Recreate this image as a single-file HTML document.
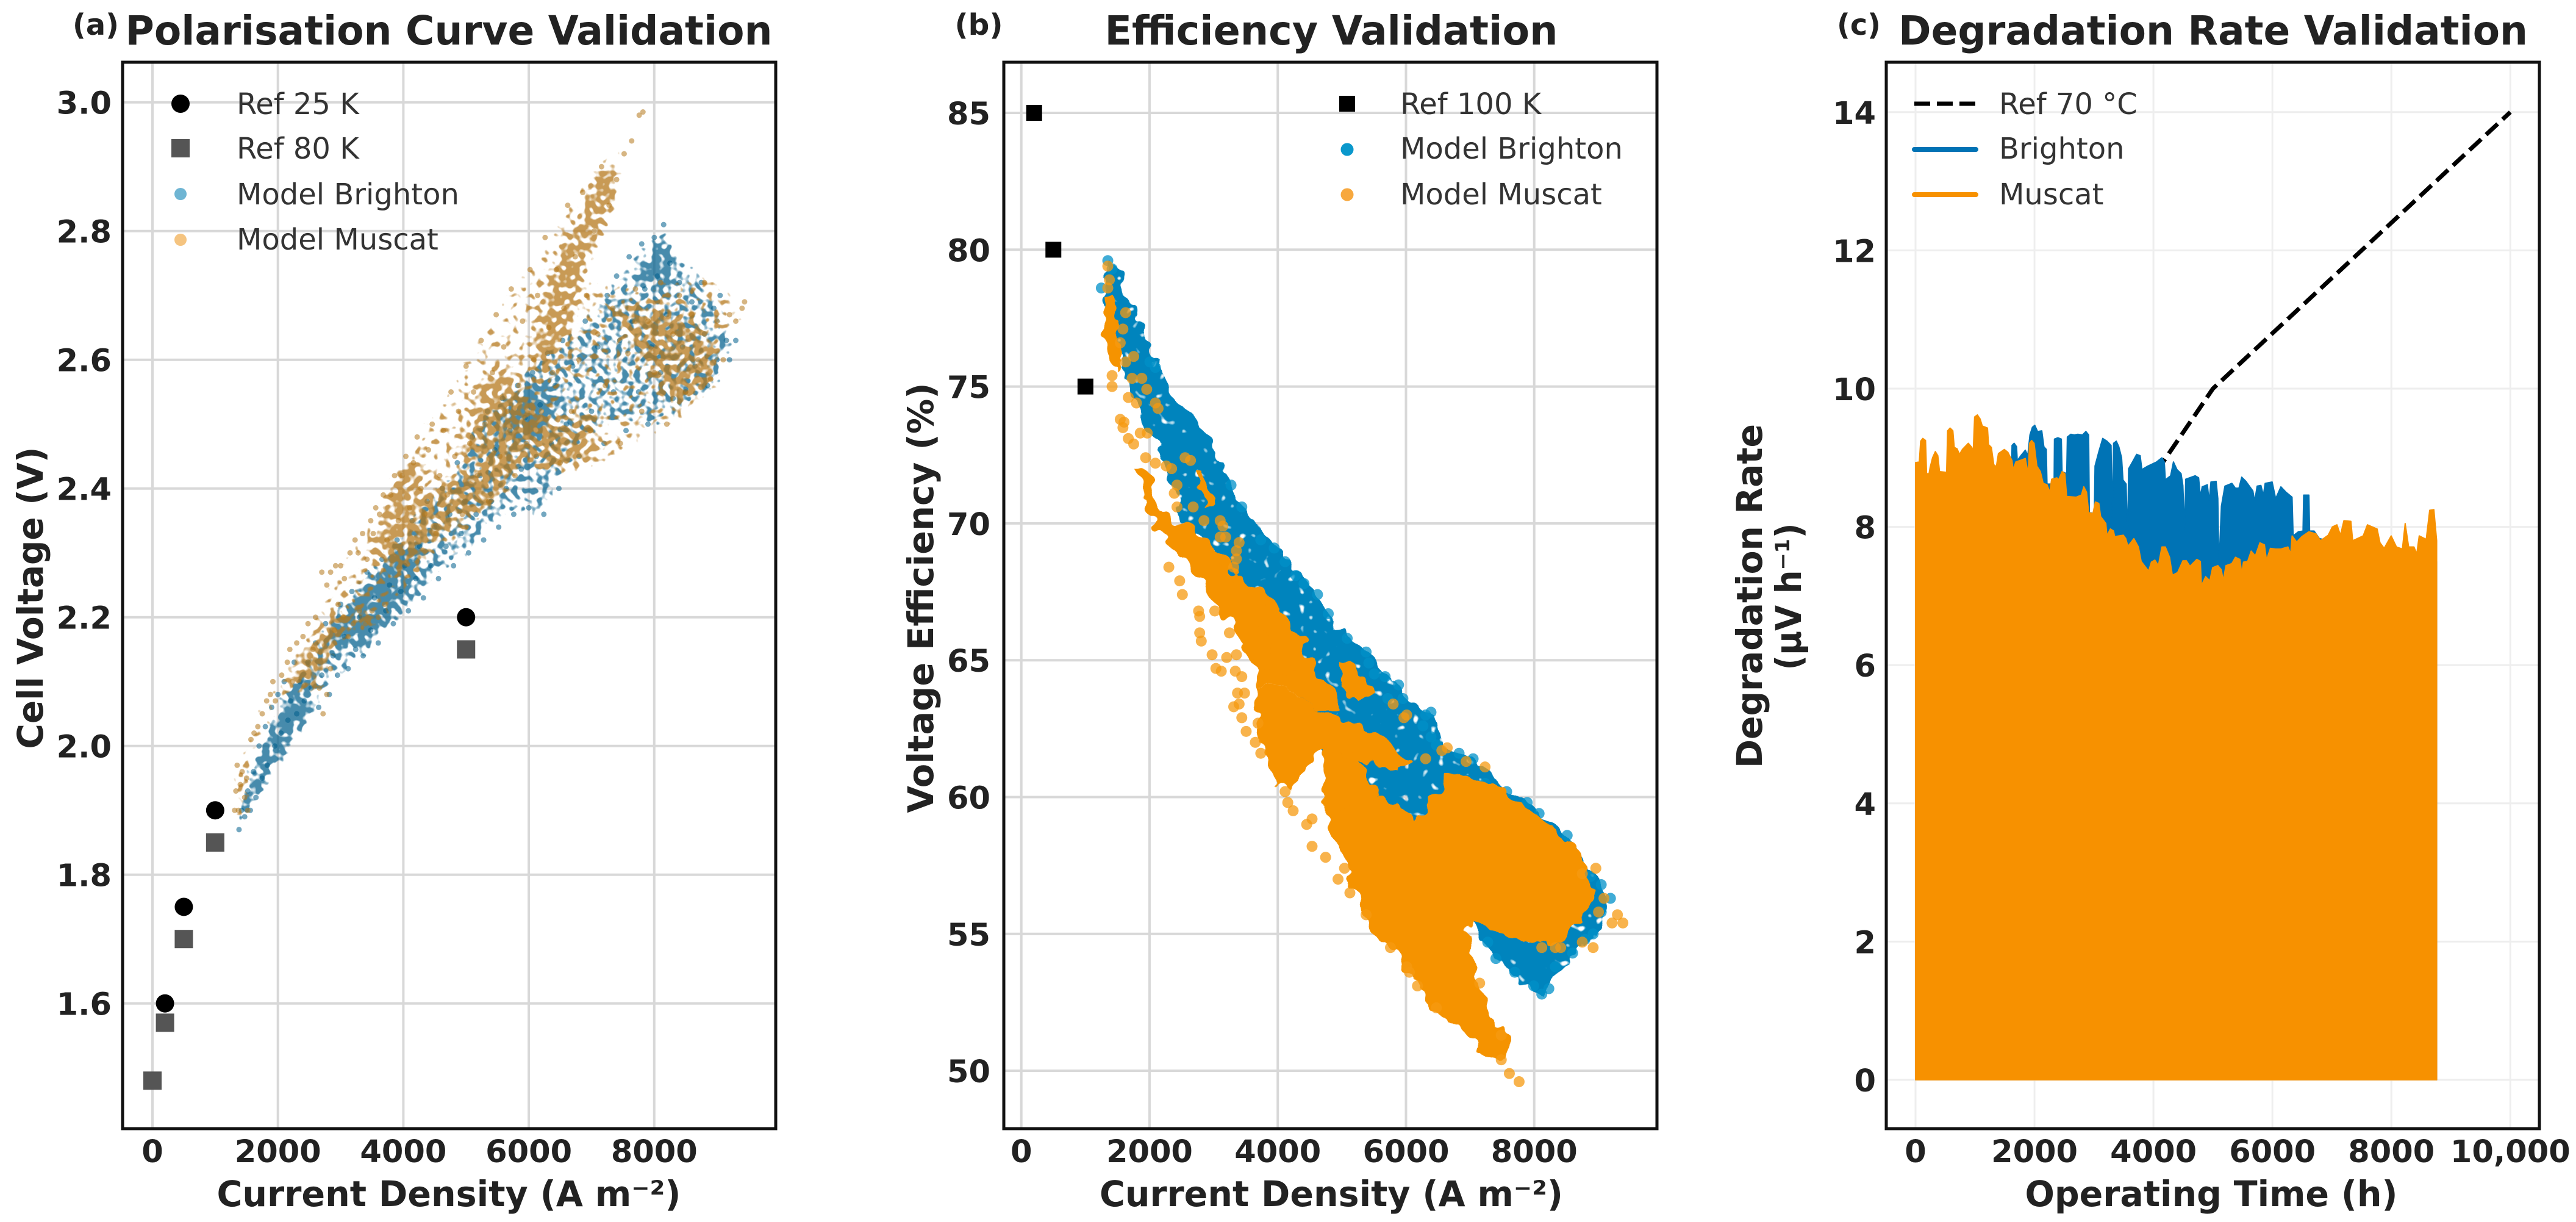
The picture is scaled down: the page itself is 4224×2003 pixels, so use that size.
<!DOCTYPE html>
<html lang="en">
<head>
<meta charset="utf-8">
<title>Model validation panels</title>
<style>
html,body{margin:0;padding:0;background:#fff;}
svg{display:block;}
text{font-family:"DejaVu Sans","Liberation Sans",sans-serif;}
</style>
</head>
<body>
<svg id="fig" xmlns="http://www.w3.org/2000/svg" width="4224" height="2003" viewBox="0 0 4224 2003">
<defs>
<filter id="speckle-blue" filterUnits="userSpaceOnUse" x="201" y="102" width="1071" height="1748" color-interpolation-filters="sRGB">
<feGaussianBlur in="SourceAlpha" stdDeviation="9" result="soft"/>
<feTurbulence type="fractalNoise" baseFrequency="0.1" numOctaves="1" seed="3"/>
<feColorMatrix values="0 0 0 0 0  0 0 0 0 0  0 0 0 0 0  1 0 0 0 0" result="noise"/>
<feComposite in="soft" in2="noise" operator="arithmetic" k1="0" k2="0.5" k3="0.5" k4="0"/>
<feComponentTransfer result="mask"><feFuncA type="linear" slope="16" intercept="-7.5"/></feComponentTransfer>
<feFlood flood-color="#005E8C" flood-opacity="0.72"/>
<feComposite in2="mask" operator="in"/>
</filter>
<filter id="speckle-brown" filterUnits="userSpaceOnUse" x="201" y="102" width="1071" height="1748" color-interpolation-filters="sRGB">
<feGaussianBlur in="SourceAlpha" stdDeviation="9" result="soft"/>
<feTurbulence type="fractalNoise" baseFrequency="0.1" numOctaves="1" seed="11"/>
<feColorMatrix values="0 0 0 0 0  0 0 0 0 0  0 0 0 0 0  1 0 0 0 0" result="noise"/>
<feComposite in="soft" in2="noise" operator="arithmetic" k1="0" k2="0.5" k3="0.5" k4="0"/>
<feComponentTransfer result="mask"><feFuncA type="linear" slope="16" intercept="-7.5"/></feComponentTransfer>
<feFlood flood-color="#B5781C" flood-opacity="0.75"/>
<feComposite in2="mask" operator="in"/>
</filter>
<filter id="rough-solid" filterUnits="userSpaceOnUse" x="1646" y="102" width="1071" height="1748" color-interpolation-filters="sRGB">
<feTurbulence type="fractalNoise" baseFrequency="0.035" numOctaves="2" seed="5" result="wobble"/>
<feDisplacementMap in="SourceGraphic" in2="wobble" scale="34" xChannelSelector="R" yChannelSelector="G"/>
</filter>
<filter id="rough-holes" filterUnits="userSpaceOnUse" x="1646" y="102" width="1071" height="1748" color-interpolation-filters="sRGB">
<feTurbulence type="fractalNoise" baseFrequency="0.035" numOctaves="2" seed="8" result="wobble"/>
<feDisplacementMap in="SourceGraphic" in2="wobble" scale="30" xChannelSelector="R" yChannelSelector="G" result="shape"/>
<feTurbulence type="fractalNoise" baseFrequency="0.07" numOctaves="1" seed="21"/>
<feColorMatrix values="0 0 0 0 0  0 0 0 0 0  0 0 0 0 0  12 0 0 0 -3.1" result="holes"/>
<feComposite in="shape" in2="holes" operator="in"/>
</filter>
</defs>
<rect width="4224" height="2003" fill="#fff"/>
</svg>
<script>
// ---------- Panel (a) data ----------
const aXTicks = [0,2000,4000,6000,8000];
const aYTicks = [1.6,1.8,2.0,2.2,2.4,2.6,2.8,3.0];
const aRef25X = [200,500,1000,5000];
const aRef25Y = [1.6,1.75,1.9,2.2];
const aRef80X = [0,200,500,1000,5000];
const aRef80Y = [1.48,1.57,1.7,1.85,2.15];
const aBrightonEnvelope = [1340,1.86,1350,1.9,1500,1.95,1800,2.03,2100,2.09,2400,2.14,2700,2.18,3000,2.22,3300,2.26,3600,2.29,3900,2.33,4200,2.37,4500,2.4,4800,2.43,5100,2.5,5400,2.53,5700,2.56,6000,2.59,6300,2.62,6600,2.64,7000,2.68,7400,2.73,7800,2.78,8200,2.81,8350,2.77,8700,2.74,9040,2.69,9300,2.63,9000,2.55,8600,2.53,8000,2.49,7400,2.5,7000,2.48,6600,2.43,6300,2.36,6000,2.36,5700,2.36,5400,2.34,5100,2.3,4800,2.28,4500,2.25,4200,2.22,3900,2.19,3600,2.16,3300,2.13,3000,2.1,2700,2.07,2400,2.03,2100,1.99,1800,1.94,1500,1.89];
const aBrightonCore1 = [1350,1.87,1400,1.92,2000,2.05,2400,2.11,2600,2.05,2100,1.98,1600,1.9];
const aBrightonCore2 = [2800,2.16,3100,2.22,3800,2.3,4300,2.32,4000,2.22,3300,2.15];
const aBrightonCore3 = [7800,2.72,8100,2.79,8300,2.77,8200,2.71];
const aBrightonCore4 = [5500,2.5,6100,2.57,6500,2.55,6000,2.47];
const aMuscatEnvelope = [1300,1.88,1320,1.97,1560,2.03,1900,2.09,2200,2.14,2550,2.2,2780,2.25,3040,2.29,3390,2.34,3650,2.39,4040,2.45,4260,2.49,4520,2.52,4780,2.57,5210,2.64,5560,2.69,6170,2.77,6430,2.81,6520,2.83,6950,2.89,7125,2.91,7560,2.94,7500,2.9,7400,2.83,7100,2.78,6950,2.72,7300,2.72,8600,2.73,9000,2.73,9450,2.68,9100,2.6,8950,2.55,8400,2.5,7800,2.47,7400,2.44,6600,2.42,6300,2.42,6000,2.45,5850,2.44,5500,2.38,5100,2.33,4800,2.3,4300,2.27,3900,2.21,3000,2.17,2700,2.06,2450,2.09,2100,2.07,1800,2.01,1500,1.93,1350,1.88];
const aMuscatCore1 = [6850,2.83,7000,2.89,7350,2.9,7450,2.85,7200,2.79,7050,2.77,6800,2.7,6550,2.62,6200,2.56,6050,2.62,6300,2.72,6500,2.77];
const aMuscatCore2 = [3500,2.29,3800,2.42,4250,2.47,4300,2.38,4800,2.42,5800,2.44,5800,2.38,4900,2.35,4400,2.31,4000,2.27];
const aMuscatCore3 = [4900,2.46,5200,2.56,5600,2.6,6000,2.53,6500,2.5,7000,2.52,7100,2.45,6300,2.42,5400,2.42];
const aMuscatCore4 = [7300,2.68,8400,2.68,9000,2.62,9000,2.56,8300,2.53,7800,2.6];
const aMuscatCore5 = [1300,1.88,1350,1.96,1500,1.97,1560,1.92,1420,1.88];
const aMuscatCore6 = [2200,2.11,2800,2.2,3600,2.21,3700,2.19,2900,2.15,2400,2.07];
const aBrightonPoints = [1380,1.87,1420,1.9,1470,1.89,1520,1.93,1560,1.9,1610,1.96,1650,1.92,1700,2,1750,1.95,1800,2.03,1830,1.97,1900,2.06,1950,2,2000,2.08,2050,2.02,2100,2.1,2160,2.04,2200,2.07,2260,2.13,2300,2.05,2350,2.1,2420,2.07,2480,2.13,2530,2.09,2600,2.16,2650,2.06,2700,2.11,2760,2.19,2820,2.08,2880,2.14,2950,2.11,3000,2.22,3060,2.17,3120,2.12,3180,2.24,3240,2.15,3300,2.2,3360,2.14,3420,2.27,3480,2.18,3540,2.23,3600,2.16,3660,2.29,3720,2.21,3780,2.25,3840,2.19,3900,2.32,3960,2.24,4020,2.28,4080,2.21,4140,2.35,4200,2.26,4260,2.31,4320,2.23,4380,2.38,4440,2.28,4500,2.34,4560,2.26,4620,2.4,4680,2.31,4740,2.36,4800,2.28,4860,2.44,4920,2.33,4980,2.38,5040,2.3,5100,2.48,5160,2.36,5220,2.42,5280,2.32,5340,2.52,5400,2.38,5460,2.46,5520,2.34,5580,2.54,5640,2.4,5700,2.49,5760,2.36,5820,2.56,5880,2.43,5940,2.51,6000,2.37,6060,2.58,6120,2.45,6180,2.53,6240,2.36,6300,2.61,6360,2.47,6420,2.56,6480,2.4,6540,2.63,6600,2.5,6700,2.59,6800,2.45,6900,2.66,7000,2.52,7100,2.62,7200,2.47,7250,2.7,7350,2.55,7400,2.73,7450,2.63,7550,2.49,7600,2.76,7650,2.66,7750,2.55,7800,2.78,7850,2.71,7900,2.5,7950,2.62,8000,2.79,8050,2.73,8100,2.58,8150,2.81,8200,2.67,8250,2.75,8300,2.54,8400,2.72,8450,2.62,8500,2.55,8600,2.69,8650,2.59,8750,2.72,8800,2.64,8850,2.56,8950,2.68,9000,2.6,9050,2.7,9150,2.63,9200,2.6,9300,2.63];
const aMuscatPoints = [1310,1.9,1330,1.93,1350,1.97,1370,1.9,1400,1.94,1430,1.96,1470,1.92,1500,1.95,1520,1.9,1570,2.01,1620,2.02,1680,2.03,1750,2.05,1820,2.07,1880,2.08,1920,2.1,1960,2.07,2060,2.11,2150,2.13,2190,2.15,2230,2.1,2300,2.16,2400,2.17,2480,2.19,2560,2.15,2600,2.2,2660,2.09,2720,2.05,2780,2.08,2840,2.12,2900,2.18,2960,2.22,3040,2.2,3120,2.17,3200,2.19,3300,2.21,3400,2.19,3500,2.21,3600,2.2,3700,2.22,2700,2.27,2780,2.25,2840,2.27,2920,2.28,3000,2.28,3060,2.26,3150,2.3,3230,2.32,3280,2.3,3350,2.33,3420,2.29,3480,2.35,3520,2.33,3560,2.37,3620,2.36,3680,2.39,3740,2.32,3800,2.39,3860,2.42,3920,2.35,3980,2.42,4040,2.45,4100,2.37,4160,2.44,4220,2.48,4280,2.4,4340,2.36,4400,2.46,4460,2.5,4520,2.33,4580,2.42,4640,2.49,4700,2.39,4760,2.55,4820,2.45,4880,2.52,4940,2.36,5000,2.59,5060,2.47,5120,2.55,5180,2.42,5240,2.63,5300,2.5,5360,2.38,5420,2.58,5480,2.67,5540,2.45,5600,2.62,5660,2.52,5720,2.71,5780,2.42,5840,2.56,5900,2.66,5960,2.47,6020,2.74,6080,2.6,6140,2.7,6200,2.52,6260,2.79,6320,2.65,6380,2.58,6440,2.74,6500,2.44,6560,2.68,6620,2.84,6680,2.52,6740,2.76,6800,2.6,6860,2.86,6920,2.7,6980,2.49,7040,2.8,7100,2.64,7160,2.9,7220,2.56,7280,2.84,7340,2.68,7400,2.88,7460,2.47,7520,2.92,7580,2.61,7640,2.94,7700,2.71,7760,2.98,7820,2.985,7800,2.52,7900,2.66,8000,2.58,8100,2.72,8200,2.5,8300,2.64,8400,2.7,8500,2.55,8600,2.67,8700,2.6,8800,2.72,8900,2.57,9000,2.66,9100,2.6,9200,2.67,9300,2.66,9400,2.68,9440,2.69];

// ---------- Panel (b) data ----------
const bXTicks = [0,2000,4000,6000,8000];
const bYTicks = [50,55,60,65,70,75,80,85];
const bRefX = [200,500,1000];
const bRefY = [85,80,75];
const bBrightonCore = [1350,79.6,1585,79.2,1670,78.1,2000,76.4,2345,74.9,2850,73.3,3270,71.3,3780,69.6,4200,68.6,4620,67.4,4870,66.4,5125,65.8,5460,65.2,5715,64.5,5880,64.1,5970,63.6,6390,63.1,6520,61.9,6810,61.6,7065,61.4,7570,60.2,7910,59.8,8075,59.4,8580,58.4,8750,57.7,9170,56.2,9000,55,8580,54.1,8290,53.5,8120,52.7,7570,53.7,7150,54.8,7000,56,6000,58,5500,59.5,5125,60.4,4700,61.5,4280,63.9,3780,64.8,3355,66.35,2930,69.1,2510,70.1,2260,72,2000,73.4,1585,75.6,1250,78.3];
const bMuscatBody = [4700,60.2,5040,59.7,5630,60,6140,59.2,6640,60.8,7150,60.8,7740,59.8,8240,59,8750,57.7,8920,56.4,8750,55.4,8160,54.5,7570,55,7060,55.5,6900,55.1,7110,53.5,7400,51.7,7610,51,7490,50.4,7230,50.7,6730,51.7,6350,52.3,6100,53.5,5840,54.3,5550,55,5290,56,5125,57,4960,58.4,4700,59.8];
const bMuscatMid = [3690,64.2,4030,64.1,4620,63.2,5460,62.5,6050,61.4,5880,60.9,5040,61.5,4700,61.7,4450,61.1,4200,60.4,3945,60.5,3780,61.2,3690,62.65];
const bMuscatWide = [2150,70.2,2600,70,3000,69.3,3400,68,3900,67.2,4400,65.6,4600,64.6,4800,64,5000,63.2,4620,63.2,4030,64.1,3690,64.2,3550,65,3300,66.8,2900,67.6,2500,68.9,2200,69.5];
const bMuscatBridge = [4700,61.8,5300,61.5,5600,60,5000,59.5,4700,60];
const bMuscatTop = [1250,78.1,1420,78.3,1500,76.9,1585,75.9,1460,75.7,1290,76.6];
const bMuscatStrip = [1800,72.1,1920,72.1,2170,70.4,2470,70,2930,69.1,3355,67.7,3780,67.4,3690,66.5,3945,65.4,4450,64.4,3780,64.6,3100,66.8,2900,67.6,2500,68.9,2200,69.5,2030,70,1900,71];
const bMuscatIsland = [2680,71.9,2810,71.9,3020,70.7,2890,70.6];
const bMuscatPatch = [4960,64.9,5125,64.9,5500,63.8,5290,63.4,5000,63.9];
const bBrightonPoints = [1349,79.6,1416,79.3,1248,78.6,2006,75.9,2091,75.7,3271,71.4,3439,70.6,3735,69.4,3945,69.1,4114,68.6,4282,68.1,4409,67.8,4620,67.4,4788,66.7,5083,65.8,5378,65.3,5421,64.9,5505,64.5,5674,64.4,5884,64.1,5716,63.6,5952,63.6,6306,63,6390,63.1,6264,62.6,6390,62.2,6474,61.9,6828,61.6,7047,61.4,7233,60.5,7570,60.2,7890,59.8,8076,59.4,8514,58.6,8877,57.1,9045,56.8,9189,56.3,9045,55.8,8919,55,8792,54.8,8599,54.3,8329,53.8,8228,53,8118,52.8,7992,53.1,7697,53.6,7402,54.1,7275,54.7];
const bMuscatPoints = [1627,77.7,1349,79.4,1374,78.9,1349,78.6,1585,77.1,1543,76.6,1753,76.1,1627,75.9,1728,75.3,1880,75.3,1956,74.9,1416,75,1416,75.4,1669,74.6,1796,74.4,2091,74.4,2133,74.2,1543,73.8,1602,73.7,1585,73.5,1669,73.1,1753,72.9,1964,73.3,1855,73.3,1939,72.4,2091,72.2,2259,72.1,2554,72.4,2639,72.3,2344,72,2428,71.4,2386,71.1,2428,70.6,2681,70.6,2849,70.1,3102,70.1,3144,69.9,3102,69.5,3187,69.5,3397,69.3,3355,69,3313,68.4,2512,67.4,2765,66.8,2301,68.4,2470,67.9,3355,68.7,2782,66.6,2782,66,2807,65.7,3018,66.8,3246,66,2976,65.2,3035,64.7,3119,64.6,3203,65.1,3355,65.2,3338,64.6,3439,64.4,3372,63.8,3482,63.8,3313,63.3,3397,63.4,3439,62.9,3692,62.7,3507,62.4,3650,62,3735,61.6,4114,60.2,4156,59.8,4240,59.5,4451,59,4535,59.2,4535,58.2,4746,57.8,4940,57,5041,57.4,5125,56.5,5378,55.7,5758,54.5,6011,53.8,6053,53.6,6179,53.1,6474,52.3,7149,53.2,7486,51.3,7486,50.4,7612,49.9,7764,49.6,8961,57.4,8750,57.2,8919,54.5,8750,54.7,9383,55.4,9214,55.4,9298,55.7,9088,56.3,9003,55.8,8329,54.5,8118,54.5,8413,54.5,6643,61.8,6559,61.7,6306,61.4,5968,62.9,5800,63.4,6011,63,7233,61.1,6938,61.3];

// ---------- Panel (c) data ----------
const cXTicks = [0,2000,4000,6000,8000,10000];
const cXTickLabels = ['0','2000','4000','6000','8000','10,000'];
const cYTicks = [0,2,4,6,8,10,12,14];
const refHours = [200,1000,3500,5000,10000];
const refRate = [5.2,6,8.1,10,14];
const brightonHours = [0,1611,1622,1658,1699,1711,1770,1846,1887,1923,1964,2005,2052,2123,2158,2199,2211,2329,2335,2393,2452,2464,2541,2552,2611,2670,2729,2806,2864,2911,2923,3006,3017,3082,3147,3218,3288,3306,3329,3376,3418,3465,3488,3541,3565,3582,3641,3718,3777,3806,3906,4053,4142,4183,4200,4289,4336,4395,4465,4495,4524,4542,4701,4760,4789,4819,4907,4936,4966,5054,5083,5101,5142,5201,5319,5378,5437,5484,5554,5672,5701,5743,5807,5848,5878,5996,6055,6143,6231,6331,6349,6437,6514,6525,6614,6626,6702,6790,8762];
const brightonPeak = [8.6,8.6,9.18,9.21,9.16,8.96,9.03,9.11,9.03,9.33,9.44,9.47,9.38,9.39,9.16,9.12,8.62,8.62,9.27,9.29,9.27,8.80,8.77,9.30,9.34,9.33,9.34,9.33,9.38,9.33,8.21,8.19,8.88,9.09,9.28,9.24,9.18,8.12,9.21,9.24,9.16,9.00,8.68,8.62,7.80,8.84,8.93,9.05,9.03,8.83,8.88,8.94,9.00,8.94,8.68,8.74,8.94,8.83,8.77,8.60,7.97,8.69,8.74,8.71,8.44,8.58,8.61,8.37,8.65,8.66,8.41,7.44,8.30,8.59,8.63,8.56,8.56,8.72,8.66,8.52,8.37,8.59,8.60,8.46,8.63,8.65,8.41,8.58,8.50,8.43,7.87,7.93,7.94,8.46,8.46,7.94,7.94,7.83,7.50];
const muscatHours = [0,63,86,122,169,186,227,245,286,333,375,404,522,539,581,628,651,698,740,787,887,946,969,993,1040,1087,1122,1210,1228,1275,1316,1358,1393,1493,1552,1622,1640,1687,1787,1846,1893,1917,1952,1993,2040,2099,2146,2211,2258,2288,2376,2405,2464,2511,2541,2700,2788,2829,2876,2911,2982,3023,3082,3112,3200,3218,3276,3329,3347,3494,3535,3571,3671,3747,3794,3918,3965,4024,4083,4142,4200,4271,4318,4407,4495,4554,4613,4730,4789,4807,4877,4948,4995,5083,5142,5172,5219,5319,5378,5454,5484,5513,5584,5643,5713,5790,5866,5901,5966,6055,6143,6261,6308,6331,6408,6496,6614,6731,6808,6938,7008,7085,7144,7202,7320,7350,7526,7597,7761,7809,7879,7997,8085,8185,8232,8291,8380,8427,8468,8586,8644,8715,8762];
const muscatPeak = [8.93,8.94,9.24,9.28,9.25,8.77,8.77,8.86,9,9.09,9.03,8.8,8.79,9.39,9.43,9.39,9.15,9.13,9.05,9.12,9.21,9.15,9.08,9.59,9.62,9.56,9.46,9.43,9.19,9.15,8.9,8.87,9.06,9.12,9.08,8.96,8.83,8.94,8.97,8.99,8.77,9.21,9.25,9.21,8.88,8.8,8.63,8.61,8.5,8.69,8.71,8.68,8.8,8.77,8.44,8.43,8.46,8.58,8.5,8.21,8.19,8.36,8.34,8.15,8.05,7.87,7.97,7.94,7.86,7.88,7.83,7.72,7.83,7.71,7.5,7.36,7.49,7.52,7.44,7.71,7.71,7.56,7.3,7.34,7.51,7.51,7.43,7.53,7.5,7.15,7.28,7.22,7.41,7.44,7.38,7.22,7.44,7.47,7.56,7.53,7.33,7.49,7.5,7.65,7.58,7.77,7.74,7.52,7.69,7.68,7.68,7.71,7.61,7.87,7.78,7.86,7.93,7.9,7.8,7.88,8,8.03,7.88,8.09,8.08,7.80,7.87,8.03,7.97,7.77,7.69,7.87,7.71,7.68,8.05,7.71,7.71,7.61,7.87,7.82,8.24,8.25,7.8];

// ---------- Helpers ----------
const SVG_NS = 'http://www.w3.org/2000/svg';
const fig = document.getElementById('fig');
function make(parent, tag, attrs, txt) {
  const n = document.createElementNS(SVG_NS, tag);
  for (const k in attrs) n.setAttribute(k, attrs[k]);
  if (txt !== undefined) n.textContent = txt;
  parent.appendChild(n);
  return n;
}
function layer(name) {
  const g = make(fig, 'g', {});
  
  
  return g;
}
function cloudLayer(parent, filterId, name) {
  const g = make(parent, 'g', {filter:'url(#' + filterId + ')'});
  
  
  return g;
}
function scaleLinear(p0, slope, v0) { return v => p0 + (v - v0) * slope; }

function drawGrid(g, P, xt, yt, color, w) {
  xt.forEach(v => {
    const l = make(g, 'line', {x1:P.x(v), x2:P.x(v), y1:P.top, y2:P.bottom, stroke:color, 'stroke-width':w});
    
    
  });
  yt.forEach(v => {
    const l = make(g, 'line', {x1:P.left, x2:P.right, y1:P.y(v), y2:P.y(v), stroke:color, 'stroke-width':w});
    
    
  });
}
function drawTicks(g, P, xt, xl, yt, yl, yRight) {
  xt.forEach((v, i) => {
    const t = make(g, 'text', {x:P.x(v), y:1905, 'font-size':51, 'font-weight':'bold', fill:'#222', 'text-anchor':'middle'}, xl[i]);
    
    
  });
  yt.forEach((v, i) => {
    const t = make(g, 'text', {x:yRight, y:P.y(v) + 19, 'font-size':51, 'font-weight':'bold', fill:'#222', 'text-anchor':'end'}, yl[i]);
    
    
  });
}
function drawFrame(g, P) {
  const r = make(g, 'rect', {x:P.left, y:P.top, width:P.right - P.left, height:P.bottom - P.top, fill:'none', stroke:'#111', 'stroke-width':5});
  
  
}
function fitText(g, x, y, txt, size, len, weight, name, rotate) {
  const a = {x:x, y:y, 'font-size':size, 'font-weight':weight, fill:'#222', 'text-anchor':'middle', textLength:len, lengthAdjust:'spacingAndGlyphs'};
  if (rotate) a.transform = 'rotate(-90 ' + x + ' ' + y + ')';
  const t = make(g, 'text', a, txt);
  
  
}
function drawPoly(g, P, flat, fill, op, name) {
  const pts = [];
  for (let i = 0; i < flat.length; i += 2) pts.push(P.x(flat[i]) + ',' + P.y(flat[i + 1]));
  const n = make(g, 'polygon', {points:pts.join(' '), fill:fill, 'fill-opacity':op});
  
  
}
function drawDots(g, P, flat, r, fill, op, name) {
  for (let i = 0; i < flat.length; i += 2) {
    const c = make(g, 'circle', {cx:P.x(flat[i]), cy:P.y(flat[i + 1]), r:r, fill:fill, 'fill-opacity':op});
    
    
  }
}
function legendText(g, x, y, txt) {
  const t = make(g, 'text', {x:x, y:y + 17, 'font-size':48, fill:'#333'}, txt);
  
  
}

// ---------- Panel (a) ----------
const PA = {left:201, right:1272, top:102, bottom:1850, x:scaleLinear(250, 0.10285, 0), y:scaleLinear(167.7, -1055, 3)};
const ga = layer('panel-a');
drawGrid(ga, PA, aXTicks, aYTicks, '#d8d8d8', 4);
const aBlueCloud = cloudLayer(ga, 'speckle-blue', 'brighton-point-cloud');
drawPoly(aBlueCloud, PA, aBrightonEnvelope, '#000', 0.46, 'brighton-density-band');
[aBrightonCore1, aBrightonCore2, aBrightonCore3, aBrightonCore4].forEach(c => drawPoly(aBlueCloud, PA, c, '#000', 0.34, 'brighton-density-core'));
drawDots(ga, PA, aBrightonPoints, 4.5, '#005E8C', 0.55, 'brighton-point');
const aBrownCloud = cloudLayer(ga, 'speckle-brown', 'muscat-point-cloud');
drawPoly(aBrownCloud, PA, aMuscatEnvelope, '#000', 0.37, 'muscat-density-band');
[aMuscatCore1, aMuscatCore2, aMuscatCore3, aMuscatCore4, aMuscatCore5, aMuscatCore6].forEach(c => drawPoly(aBrownCloud, PA, c, '#000', 0.32, 'muscat-density-core'));
drawDots(ga, PA, aMuscatPoints, 4.5, '#B5781C', 0.55, 'muscat-point');
aRef25X.forEach((v, i) => {
  const c = make(ga, 'circle', {cx:PA.x(v), cy:PA.y(aRef25Y[i]), r:15, fill:'#000'});
  
  
});
aRef80X.forEach((v, i) => {
  const c = make(ga, 'rect', {x:PA.x(v) - 15, y:PA.y(aRef80Y[i]) - 15, width:30, height:30, fill:'#555'});
  
  
});
drawFrame(ga, PA);
drawTicks(ga, PA, aXTicks, aXTicks.map(String), aYTicks, aYTicks.map(v => v.toFixed(1)), 183);
fitText(ga, 736, 73, 'Polarisation Curve Validation', 66, 1061, 'bold', 'panel-a-title');
fitText(ga, 157, 57, '(a)', 48, 76, 'bold', 'panel-a-label');
fitText(ga, 736, 1977, 'Current Density (A m⁻²)', 58, 761, 'bold', 'panel-a-x-axis-title');
fitText(ga, 70, 980, 'Cell Voltage (V)', 58, 495, 'bold', 'panel-a-y-axis-title', true);
const la = layer('panel-a-legend');
const la1 = make(la, 'circle', {cx:296, cy:170, r:15, fill:'#000'});


legendText(la, 388, 170, 'Ref 25 K');
const la2 = make(la, 'rect', {x:281, y:228, width:30, height:30, fill:'#555'});


legendText(la, 388, 243, 'Ref 80 K');
const la3 = make(la, 'circle', {cx:296, cy:318, r:10, fill:'#6FB5D3'});


legendText(la, 388, 318, 'Model Brighton');
const la4 = make(la, 'circle', {cx:296, cy:393, r:10, fill:'#F5C480'});


legendText(la, 388, 392, 'Model Muscat');

// ---------- Panel (b) ----------
const PB = {left:1646, right:2717, top:102, bottom:1850, x:scaleLinear(1674.7, 0.10513, 0), y:scaleLinear(185, -44.86, 85)};
const gb = layer('panel-b');
drawGrid(gb, PB, bXTicks, bYTicks, '#d8d8d8', 4);
const bBlueCloud = cloudLayer(gb, 'rough-holes', 'brighton-dense-cloud');
drawPoly(bBlueCloud, PB, bBrightonCore, '#0084BD', 1, 'brighton-dense-region');
drawDots(gb, PB, bBrightonPoints, 9, '#0090C8', 0.75, 'brighton-point');
const bOrangeCloud = cloudLayer(gb, 'rough-solid', 'muscat-dense-cloud');
[bMuscatBody, bMuscatMid, bMuscatWide, bMuscatBridge, bMuscatTop, bMuscatStrip, bMuscatIsland, bMuscatPatch].forEach(c => drawPoly(bOrangeCloud, PB, c, '#F59300', 1, 'muscat-dense-region'));
drawDots(gb, PB, bMuscatPoints, 9, '#F59A10', 0.75, 'muscat-point');
bRefX.forEach((v, i) => {
  const c = make(gb, 'rect', {x:PB.x(v) - 13, y:PB.y(bRefY[i]) - 13, width:26, height:26, fill:'#000'});
  
  
});
drawFrame(gb, PB);
drawTicks(gb, PB, bXTicks, bXTicks.map(String), bYTicks, bYTicks.map(String), 1624);
fitText(gb, 2183, 73, 'Efficiency Validation', 66, 743, 'bold', 'panel-b-title');
fitText(gb, 1605, 57, '(b)', 48, 79, 'bold', 'panel-b-label');
fitText(gb, 2183, 1977, 'Current Density (A m⁻²)', 58, 760, 'bold', 'panel-b-x-axis-title');
fitText(gb, 1530, 980, 'Voltage Efficiency (%)', 58, 705, 'bold', 'panel-b-y-axis-title', true);
const lb = layer('panel-b-legend');
const lb1 = make(lb, 'rect', {x:2196, y:157, width:26, height:26, fill:'#000'});


legendText(lb, 2296, 170, 'Ref 100 K');
const lb2 = make(lb, 'circle', {cx:2209, cy:245, r:10.5, fill:'#0A98CC'});


legendText(lb, 2296, 243, 'Model Brighton');
const lb3 = make(lb, 'circle', {cx:2209, cy:319, r:10.5, fill:'#F7A83E'});


legendText(lb, 2296, 318, 'Model Muscat');

// ---------- Panel (c) ----------
const PC = {left:3093, right:4164, top:102, bottom:1850, x:scaleLinear(3141, 0.09753, 0), y:scaleLinear(1770, -113.3, 0)};
const gc = layer('panel-c');
drawGrid(gc, PC, cXTicks, cYTicks, '#eeeeee', 3);
function linePath(xs, ys) {
  return xs.map((v, i) => (i ? 'L' : 'M') + PC.x(v) + ' ' + PC.y(ys[i])).join(' ');
}
const refLine = make(gc, 'path', {d:linePath(refHours, refRate), fill:'none', stroke:'#000', 'stroke-width':7, 'stroke-dasharray':'26 11'});


function rateArea(xs, ys, color, name) {
  const d = 'M' + PC.x(xs[0]) + ' ' + PC.y(0) + ' ' + xs.map((v, i) => 'L' + PC.x(v) + ' ' + PC.y(ys[i])).join(' ') + ' L' + PC.x(xs[xs.length - 1]) + ' ' + PC.y(0) + ' Z';
  const p = make(gc, 'path', {d:d, fill:color, stroke:color, 'stroke-width':2, 'stroke-linejoin':'round'});
  
  
}
rateArea(brightonHours, brightonPeak, '#0073B5', 'brighton-degradation-series');
rateArea(muscatHours, muscatPeak, '#F79100', 'muscat-degradation-series');
drawFrame(gc, PC);
drawTicks(gc, PC, cXTicks, cXTickLabels, cYTicks, cYTicks.map(String), 3076);
fitText(gc, 3629, 73, 'Degradation Rate Validation', 66, 1032, 'bold', 'panel-c-title');
fitText(gc, 3048, 57, '(c)', 48, 72, 'bold', 'panel-c-label');
fitText(gc, 3626, 1977, 'Operating Time (h)', 58, 611, 'bold', 'panel-c-x-axis-title');
fitText(gc, 2889, 977, 'Degradation Rate', 58, 564, 'bold', 'panel-c-y-axis-title', true);
fitText(gc, 2953, 978, '(µV h⁻¹)', 58, 241, 'bold', 'panel-c-y-axis-unit', true);
const lc = layer('panel-c-legend');
const lc1 = make(lc, 'line', {x1:3139, x2:3240, y1:170, y2:170, stroke:'#000', 'stroke-width':7, 'stroke-dasharray':'26 11'});


legendText(lc, 3278, 170, 'Ref 70 °C');
const lc2 = make(lc, 'line', {x1:3139, x2:3240, y1:245, y2:245, stroke:'#0073B5', 'stroke-width':8, 'stroke-linecap':'round'});


legendText(lc, 3278, 243, 'Brighton');
const lc3 = make(lc, 'line', {x1:3139, x2:3240, y1:319, y2:319, stroke:'#F79100', 'stroke-width':8, 'stroke-linecap':'round'});


legendText(lc, 3278, 318, 'Muscat');
</script>
</body>
</html>
